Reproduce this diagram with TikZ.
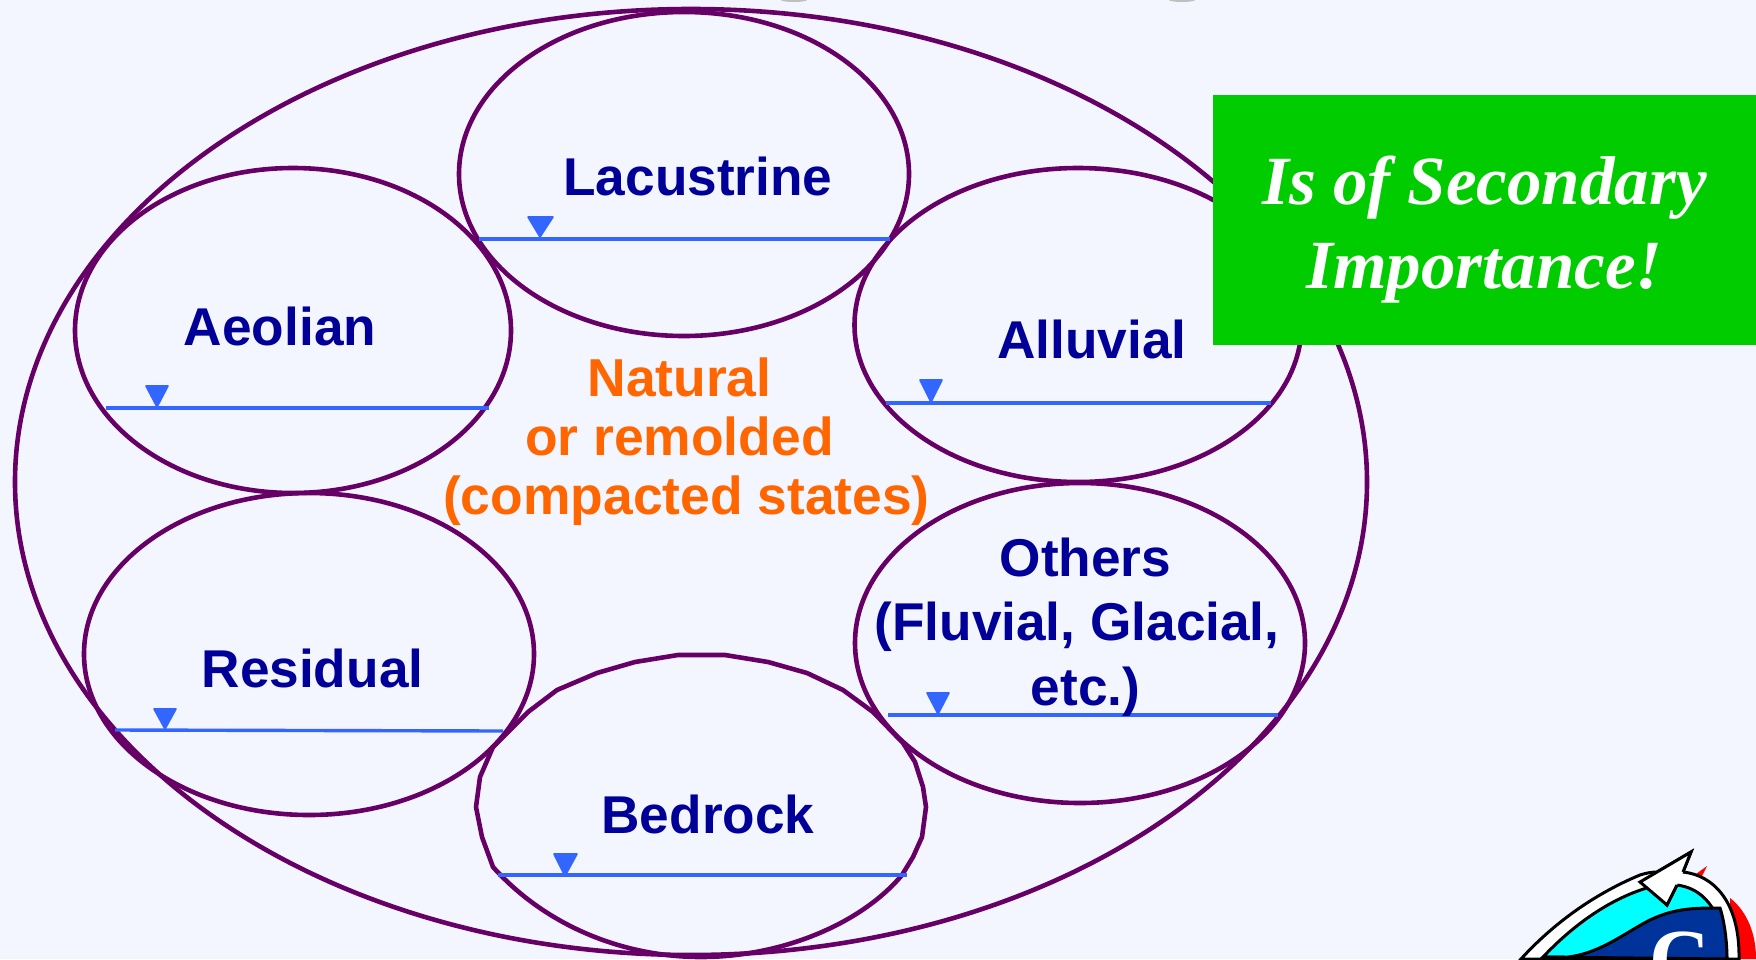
\documentclass[tikz,border=0pt]{standalone}
\usepackage{xcolor}
\usepackage{fontspec}
\setmainfont{Liberation Sans}
\newfontfamily\serifface{Liberation Serif}
\usetikzlibrary{shapes,positioning}
\definecolor{paleback}{HTML}{F3F6FF}
\definecolor{rimpurple}{HTML}{660066}
\definecolor{waterblue}{HTML}{3366FF}
\definecolor{labelnavy}{HTML}{000099}
\definecolor{noteorange}{HTML}{FF6600}
\definecolor{notegreen}{HTML}{00CC00}
\definecolor{logonavy}{HTML}{003399}
\definecolor{logocyan}{HTML}{00FFFF}
\definecolor{logored}{HTML}{FF0000}

\begin{document}
\begin{tikzpicture}[
    x=0.5pt, y=-0.5pt,
    deposit/.style={ellipse, draw=rimpurple, line width=2.3pt, inner sep=0pt},
    water/.style={draw=waterblue, line width=1.7pt},
    wedge/.style={fill=waterblue, draw=waterblue, line width=0.8pt, line join=round},
    soillabel/.style={font=\bfseries\fontsize{26.6}{32.3}\selectfont, text=labelnavy, align=center, inner sep=0pt},
    logoline/.style={draw=black, line width=1.5pt, line join=miter}]
    \useasboundingbox[fill=paleback] (0,0) rectangle (1756,959);
    \clip (0,0) rectangle (1756,959);

    \fill[black!25] (794,0) ellipse (13 and 2);
    \fill[black!25] (1182,0) ellipse (13 and 2);

    \node[deposit, minimum width=676pt, minimum height=473pt] (soil) at (691,482) {};
    \node[deposit, minimum width=225pt, minimum height=162pt] (lacustrine) at (684,174) {};
    \node[deposit, minimum width=218pt, minimum height=162.5pt] (aeolian) at (293,330.5) {};
    \node[deposit, minimum width=223.5pt, minimum height=157pt] (alluvial) at (1078,325) {};
    \node[deposit, minimum width=225pt, minimum height=161pt] (residual) at (309,654) {};
    \node[deposit, minimum width=225pt, minimum height=160pt] (others) at (1080,643) {};
    \draw[rimpurple, line width=2.3pt, line join=round] (678,655) -- (725,655) -- (768,662) -- (807,673) -- (843,690)
        -- (873,712) -- (903,743) -- (915,762) -- (923,787) -- (926,807) -- (922,837) -- (913,857) -- (902,875)
        .. controls (860,925) and (780,957) .. (701,957) .. controls (622,957) and (545,925) .. (493,867)
        -- (482,837) -- (476,807) -- (480,777) -- (493,747) -- (528,712) -- (557,690)
        -- (597,673) -- (635,662) -- cycle;

    \draw[water] (479,239) -- (890,239);
    \draw[water] (106,408) -- (489,408);
    \draw[water] (886,403) -- (1271,403);
    \draw[water] (115,730) -- (503,731);
    \draw[water] (888,715) -- (1278,715);
    \draw[water] (498,875) -- (907,875);

    \path[wedge] (528,217) -- (553,217) -- (540,237) -- cycle;
    \path[wedge] (146,386) -- (168,386) -- (157,407) -- cycle;
    \path[wedge] (920,380) -- (942,380) -- (931,402) -- cycle;
    \path[wedge] (154,709) -- (176,709) -- (165,729) -- cycle;
    \path[wedge] (927,693) -- (949,693) -- (938,714) -- cycle;
    \path[wedge] (554,854) -- (577,854) -- (565,876) -- cycle;

    \node[soillabel] (lacustrinelabel) at (698,176) {Lacustrine};
    \node[soillabel] (aeolianlabel) at (280,326) {Aeolian};
    \node[soillabel] (alluviallabel) at (1092,339) {Alluvial};
    \node[soillabel] (residuallabel) at (312.5,668) {Residual};
    \node[soillabel] (bedrocklabel) at (708,814) {Bedrock};
    \node[soillabel] (otherslabel) at (1077,627) {\mbox{\kern8.4pt Others}\\(Fluvial, Glacial,\\\mbox{\kern8.4pt etc.)}};
    \node[soillabel, text=noteorange, font=\bfseries\fontsize{26.7}{29.5}\selectfont] (statelabel) at (686.5,441.5) {\mbox{Natural\kern7pt}\\\mbox{or remolded\kern7pt}\\(compacted states)};

    \node[fill=notegreen, minimum width=271.5pt, minimum height=125pt, inner sep=0pt] (note) at (1484.5,220) {};
    \node[text=white, align=center, inner sep=0pt,
        font=\serifface\bfseries\itshape\fontsize{34.5}{42}\selectfont] (notetext) at (1484.5,229.5) {Is of Secondary\\Importance!};

    \fill[logored] (1696,874) -- (1707,866) -- (1702,876) -- cycle;
    \fill[logored] (1730,898) .. controls (1748,912) and (1756,935) .. (1756,959) -- (1730,959) -- cycle;
    \path[logoline, fill=white] (1521,959) .. controls (1552,925) and (1592,895) .. (1640,875)
        .. controls (1646,873) and (1652,872) .. (1657,872) -- (1691,852) -- (1683,872)
        .. controls (1712,875) and (1740,900) .. (1739,959) -- cycle;
    \path[logoline, fill=logocyan] (1543,957) .. controls (1578,920) and (1615,897) .. (1650,887)
        -- (1667,905) -- (1677,885) .. controls (1700,888) and (1722,905) .. (1727,959) -- cycle;
    \path[logoline, fill=logonavy] (1543,957) .. controls (1590,963) and (1620,935) .. (1650,920)
        .. controls (1675,908) and (1695,908) .. (1720,908)
        .. controls (1724,920) and (1727,940) .. (1727,959) -- cycle;
    \fill[white] (1683,872) -- (1691,852) -- (1640,882) -- (1667,905) -- (1677,885) -- cycle;
    \path[logoline] (1683,872) -- (1691,852) -- (1640,882) -- (1667,905) -- (1677,885);
    \node[text=white, inner sep=0pt, anchor=north, font=\serifface\bfseries\fontsize{42}{42}\selectfont] (logoletter) at (1680,931) {C};
\end{tikzpicture}
\end{document}
